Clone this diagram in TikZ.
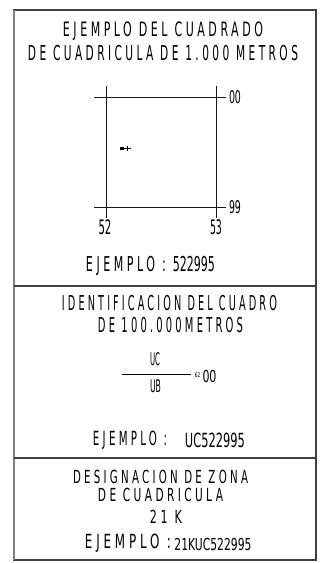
\documentclass[tikz,border=0pt]{standalone}
\usepackage{fontspec}
\usepackage{graphicx}
\newfontfamily\cad[FakeStretch=0.5]{DejaVu Sans}
\newfontfamily\cadsp[FakeStretch=0.5,LetterSpace=16]{DejaVu Sans}
% #1 width (pt), #2 font size giving the cap height, #3 text
\newcommand\fitbox[3]{\resizebox{#1pt}{\height}{\fontsize{#2}{#2}\selectfont #3}}
\tikzset{
  lbl/.style={inner sep=0pt, outer sep=0pt, anchor=center},
  frame/.style={draw=black!75, line width=1.3pt},
  gridline/.style={draw=black!90, line width=0.9pt},
}
\begin{document}
\begin{tikzpicture}[x=1pt,y=-1pt]
\useasboundingbox (0,0) rectangle (320,563);
\fill[white] (0,0) rectangle (320,563);
% frame
\coordinate (tl) at (14,10);
\coordinate (br) at (316,560);
\draw[frame] (tl) rectangle (br);
\draw[draw=black!50, line width=2pt] (14,10) -- (14,560);
\coordinate (d1l) at (14,286);
\coordinate (d1r) at (316,286);
\coordinate (d2l) at (14,458);
\coordinate (d2r) at (316,458);
\draw[frame] (d1l) -- (d1r);
\draw[frame] (d2l) -- (d2r);
% section 1 text
\node[lbl] (t1) at (163,31) {\fitbox{200}{19.8}{\cadsp EJEMPLO DEL CUADRADO}};
\node[lbl] (t2) at (163,53.5) {\fitbox{270}{20.5}{\cadsp DE CUADRICULA DE 1.000 METROS}};
% grid square
\coordinate (h1a) at (94,97);
\coordinate (h1b) at (226,97);
\coordinate (h2a) at (94,207);
\coordinate (h2b) at (226,207);
\coordinate (v1a) at (106,86);
\coordinate (v1b) at (106,218);
\coordinate (v2a) at (216.5,86);
\coordinate (v2b) at (216.5,218);
\draw[gridline] (h1a) -- (h1b);
\draw[gridline] (h2a) -- (h2b);
\draw[gridline] (v1a) -- (v1b);
\draw[gridline] (v2a) -- (v2b);
\node[lbl] (l00) at (235,97) {\fitbox{12}{17.5}{\cad 00}};
\node[lbl] (l99) at (235,207) {\fitbox{12}{17.5}{\cad 99}};
\node[lbl] (l52) at (105,227.5) {\fitbox{13}{20}{\cad 52}};
\node[lbl] (l53) at (216,227.5) {\fitbox{12}{20}{\cad 53}};
% marker
\fill[black] (120,146.5) rectangle (123.5,150);
\coordinate (mk1) at (123.5,148.3);
\coordinate (mk2) at (131,148.3);
\draw[line width=0.7pt] (mk1) -- (mk2);
\draw[line width=0.7pt] (127,146) -- (127,150.5);
\node[lbl] (e1) at (150.5,265.5) {\fitbox{129}{20.5}{\cadsp EJEMPLO : \cad 522995}};
% section 2
\node[lbl] (s2a) at (169.5,303.5) {\fitbox{215}{20.5}{\cadsp IDENTIFICACION DEL CUADRO}};
\node[lbl] (s2b) at (170.5,325.5) {\fitbox{145}{20.5}{\cadsp DE 100.000METROS}};
\node[lbl] (uc) at (155,359.5) {\fitbox{10}{17.5}{\cad UC}};
\node[lbl] (ub) at (155.5,386.5) {\fitbox{11}{17.5}{\cad UB}};
\coordinate (fa) at (122,374.3);
\coordinate (fb) at (191,374.3);
\draw[line width=0.9pt] (fa) -- (fb);
\node[lbl] (sup) at (197.5,374.8) {\fitbox{5.5}{6.5}{\cad 62}};
\node[lbl] (f00) at (209.5,376.5) {\fitbox{14}{16.5}{\cad 00}};
\node[lbl] (e2a) at (130,440) {\fitbox{74}{19.5}{\cadsp EJEMPLO :}};
\node[lbl] (e2b) at (215,440) {\fitbox{60}{19.5}{\cad UC522995}};
% section 3
\node[lbl] (s3a) at (160.5,476.5) {\fitbox{175}{18}{\cadsp DESIGNACION DE ZONA}};
\node[lbl] (s3b) at (160.5,494.5) {\fitbox{125}{18}{\cadsp DE CUADRICULA}};
\node[lbl] (s3c) at (166,516.5) {\fitbox{32}{18}{\cadsp 21 K}};
\node[lbl] (e3a) at (128,543) {\fitbox{86}{19.5}{\cadsp EJEMPLO :}};
\node[lbl] (e3b) at (213,544) {\fitbox{77}{16.5}{\cad 21KUC522995}};
\end{tikzpicture}
\end{document}
